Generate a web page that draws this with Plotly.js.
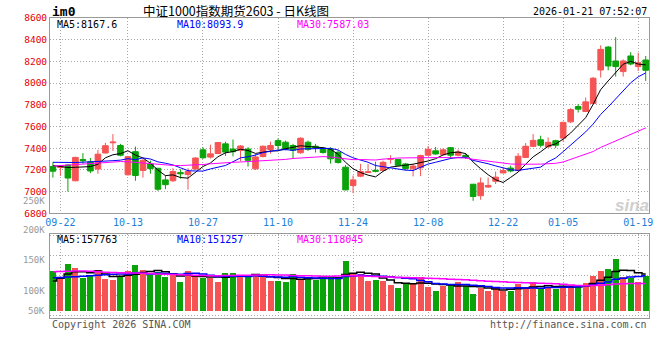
<!DOCTYPE html>
<html>
<head>
<meta charset="utf-8">
<script src="https://cdn.plot.ly/plotly-3.0.1.min.js"></script>
<style>
html,body{margin:0;padding:0;background:#fff;}
#chart{width:660px;height:360px;}
</style>
</head>
<body>
<div id="chart"></div>
<script>
// ---------- data ----------
const dates = ['09-19','09-22','09-23','09-24','09-25','09-26','09-29','09-30',
 '10-09','10-10','10-13','10-14','10-15','10-16','10-17','10-20','10-21','10-22','10-23','10-24','10-27','10-28','10-29','10-30','10-31',
 '11-03','11-04','11-05','11-06','11-07','11-10','11-11','11-12','11-13','11-14','11-17','11-18','11-19','11-20','11-21','11-24','11-25','11-26','11-27','11-28',
 '12-01','12-02','12-03','12-04','12-05','12-08','12-09','12-10','12-11','12-12','12-15','12-16','12-17','12-18','12-19','12-22','12-23','12-24','12-25','12-26','12-29','12-30','12-31',
 '01-05','01-06','01-07','01-08','01-09','01-12','01-13','01-14','01-15','01-16','01-19','01-20'];

const openPrices = [7231,7222,7245,7100,7296,7275,7208,7356,7450,7425,
 7155,7368,7195,7255,7215,7108,7100,7175,7157,7208,
 7385,7318,7351,7440,7392,7380,7392,7210,7323,7388,
 7470,7455,7425,7358,7455,7418,7400,7388,7362,7225,
 7056,7142,7175,7196,7195,7298,7296,7255,7210,7220,
 7335,7376,7340,7405,7335,7335,7068,6962,7042,7095,
 7172,7217,7193,7315,7417,7478,7413,7469,7493,7643,
 7784,7738,7812,8121,8332,8204,8106,8250,8152,8213];
const highPrices = [7271,7245,7250,7322,7355,7310,7385,7450,7530,7440,
 7330,7415,7300,7285,7218,7150,7215,7205,7215,7315,
 7408,7432,7455,7460,7480,7428,7410,7348,7425,7460,
 7490,7470,7440,7500,7470,7440,7410,7408,7378,7245,
 7148,7255,7255,7275,7285,7335,7300,7265,7255,7340,
 7420,7412,7398,7410,7388,7355,7070,7130,7130,7184,
 7222,7239,7355,7447,7530,7515,7499,7478,7645,7769,
 7806,7867,8057,8348,8342,8424,8219,8286,8280,8250];
const lowPrices = [7129,7145,7000,7095,7258,7170,7165,7350,7375,7325,
 7148,7100,7130,7165,7006,7022,7088,7120,7018,7200,
 7300,7305,7345,7330,7325,7280,7230,7200,7315,7350,
 7385,7380,7308,7350,7375,7360,7350,7258,7258,7012,
 6985,7133,7172,7178,7185,7258,7235,7195,7140,7142,
 7330,7340,7335,7300,7325,7300,6915,6925,7035,7070,
 7170,7178,7190,7309,7410,7407,7404,7401,7459,7631,
 7729,7735,7806,8051,8118,8060,8060,8164,8112,8020];
const closePrices = [7188,7238,7125,7315,7284,7190,7345,7423,7456,7335,
 7322,7148,7288,7212,7022,7064,7185,7165,7185,7310,
 7312,7348,7452,7364,7368,7420,7288,7320,7418,7425,
 7425,7390,7382,7492,7390,7402,7360,7302,7268,7016,
 7108,7185,7182,7188,7270,7304,7242,7212,7235,7332,
 7390,7347,7385,7335,7366,7320,6955,7080,7057,7133,
 7195,7190,7326,7418,7472,7427,7454,7427,7638,7756,
 7760,7827,8045,8311,8158,8152,8204,8176,8188,8118];
const volumes = [171200,139800,201000,185300,139900,154100,175400,136900,132600,146700,
 171100,196800,175300,154000,168200,146600,153900,125300,171000,149700,
 139800,142400,125400,163800,163900,146700,146800,158200,151000,129600,
 129700,125300,158100,136800,139900,132600,139800,151000,144100,215100,
 158300,158200,129700,132500,129600,111200,99700,121000,121100,146700,
 103240,86410,107350,111180,124760,107420,72890,100310,86550,102970,
 86720,86480,114150,100290,124830,100160,103090,95880,102940,111160,
 103500,120500,149000,171500,179255,224000,147000,142500,125500,149815];

// moving-average values before enough history is on screen
const priceMa5Head  = [7240,7232,7222,7224];
const priceMa10Head = [7270,7268,7266,7268,7271,7273,7276,7280,7285];
const priceMa30Head = [7235,7240,7245,7250,7255,7260,7265,7270,7275,7277,
 7275,7270,7263,7255,7248,7244,7241,7240,7242,7246,
 7250,7256,7262,7266,7270,7273,7276,7279,7282];
const volMa5Head  = [128000,140000,158000,168000];
const volMa10Head = [142000,143000,145000,147000,149000,151000,153000,155000,157000];
const volMa30Head = [168000,169000,170000,171000,171000,170000,168000,166000,165000,164000,
 163000,162000,161000,160000,158000,157000,156000,155000,154000,153000,
 152000,151000,151000,152000,152000,153000,153000,154000,154000];

const tickDates  = ['09-22','10-13','10-27','11-10','11-24','12-08','12-22','01-05','01-19'];
const priceTicks = [6800,7000,7200,7400,7600,7800,8000,8200,8400,8600];
const volLabels  = ['250K','200K','150K','100K','50K'];
const priceLegend = ['MA5:8167.6','MA10:8093.9','MA30:7587.03'];
const volLegend   = ['MA5:157763','MA10:151257','MA30:118045'];
const titleText = '中证1000指数期货2603 - 日K线图';
const symbolText = 'im0';
const timeText = '2026-01-21 07:52:07';

// ---------- helpers ----------
function movingAverage(values, n, head) {
  return values.map((v, i) => {
    if (i < n - 1) return head[i];
    let s = 0;
    for (let k = i - n + 1; k <= i; k++) s += values[k];
    return s / n;
  });
}

const RED = '#f65454', GREEN = '#0aa30a';
const MA_COLORS = ['#000000', '#0000ff', '#ff00ff'];
const GRID = '#a8a8a8', BORDER = '#9a9a9a';
const MONO = 'DejaVu Sans Mono, monospace';

const xi = dates.map((d, i) => i);
const up = closePrices.map((c, i) => c >= openPrices[i]);
const volColors = up.map(u => u ? RED : GREEN);
const tickIdx = tickDates.map(d => dates.indexOf(d));

const pMa = [movingAverage(closePrices, 5, priceMa5Head),
             movingAverage(closePrices, 10, priceMa10Head),
             movingAverage(closePrices, 30, priceMa30Head)];
const vMa = [movingAverage(volumes, 5, volMa5Head),
             movingAverage(volumes, 10, volMa10Head),
             movingAverage(volumes, 30, volMa30Head)];

const traces = [];
traces.push({
  type: 'candlestick', x: xi, open: openPrices, high: highPrices, low: lowPrices, close: closePrices,
  xaxis: 'x', yaxis: 'y', whiskerwidth: 0,
  increasing: {line: {color: RED, width: 1}, fillcolor: RED},
  decreasing: {line: {color: GREEN, width: 1}, fillcolor: GREEN},
  hoverinfo: 'skip'
});
pMa.forEach((ma, k) => traces.push({
  type: 'scatter', mode: 'lines', x: xi, y: ma, xaxis: 'x', yaxis: 'y',
  line: {color: MA_COLORS[k], width: 1}, hoverinfo: 'skip'
}));
traces.push({
  type: 'bar', x: xi, y: volumes, xaxis: 'x2', yaxis: 'y2', width: 0.8,
  marker: {color: volColors, line: {width: 0}}, hoverinfo: 'skip'
});
vMa.forEach((ma, k) => traces.push({
  type: 'scatter', mode: 'lines', x: xi, y: ma, xaxis: 'x2', yaxis: 'y2',
  line: {color: MA_COLORS[k], width: 1.5, shape: 'hvh'}, hoverinfo: 'skip'
}));

// pixel helpers for text placement (plot area: x 50..649, y 18..318)
const PX = px => (px - 50) / 599;
const PY = py => (318 - py) / 300;

const ann = [];
ann.push({text: '<b>' + symbolText + '</b>', x: PX(50), y: PY(11.5), xanchor: 'left', yanchor: 'middle',
  font: {family: MONO, size: 13, color: '#000'}});
ann.push({text: titleText, x: PX(236), y: PY(11), xanchor: 'center', yanchor: 'middle',
  font: {family: 'Noto Sans CJK SC', size: 12.5, color: '#000'}});
ann.push({text: timeText, x: PX(649), y: PY(12), xanchor: 'right', yanchor: 'middle',
  font: {family: MONO, size: 10, color: '#000'}});
const legX = [55, 175, 295];
priceLegend.forEach((t, k) => ann.push({text: t, x: PX(legX[k]), y: PY(24), xanchor: 'left', yanchor: 'middle',
  font: {family: MONO, size: 10, color: MA_COLORS[k]}}));
volLegend.forEach((t, k) => ann.push({text: t, x: PX(legX[k]), y: PY(239), xanchor: 'left', yanchor: 'middle',
  font: {family: MONO, size: 10, color: MA_COLORS[k]}}));
const volLabelY = [200.5, 230, 260, 291, 311];
volLabels.forEach((t, k) => ann.push({text: t, x: PX(47), y: PY(volLabelY[k]), xanchor: 'right', yanchor: 'middle',
  font: {family: MONO, size: 9, color: '#999'}}));
ann.push({text: 'Copyright 2026 SINA.COM', x: PX(50), y: PY(324), xanchor: 'left', yanchor: 'middle',
  font: {family: MONO, size: 10, color: '#555'}});
ann.push({text: 'http://finance.sina.com.cn', x: PX(649), y: PY(324), xanchor: 'right', yanchor: 'middle',
  font: {family: MONO, size: 10, color: '#555'}});
ann.push({text: '<b><i>sina</i></b>', x: PX(651), y: PY(205), xanchor: 'right', yanchor: 'middle',
  font: {family: 'Liberation Sans', size: 17, color: '#cfcfcf'}});
ann.forEach(a => { a.xref = 'paper'; a.yref = 'paper'; a.showarrow = false; });

const gridAxis = {
  showgrid: true, gridcolor: GRID, gridwidth: 1, griddash: '1px,2px',
  showline: true, mirror: true, linecolor: BORDER, linewidth: 1, zeroline: false,
  ticks: '', fixedrange: true
};

const layout = {
  width: 660, height: 360,
  margin: {l: 50, r: 11, t: 18, b: 42},
  paper_bgcolor: '#fff', plot_bgcolor: '#fff',
  showlegend: false, hovermode: false,
  boxgap: 0.25, boxgroupgap: 0, bargap: 0,
  xaxis: Object.assign({}, gridAxis, {
    domain: [0, 1], anchor: 'y', range: [-0.386, 79.44], rangeslider: {visible: false},
    tickmode: 'array', tickvals: tickIdx, ticktext: tickDates,
    tickfont: {family: MONO, size: 10, color: '#1e7fd8'}
  }),
  yaxis: Object.assign({}, gridAxis, {
    domain: [0.349, 1], anchor: 'x', range: [6800, 8600],
    tickmode: 'array', tickvals: priceTicks, ticktext: priceTicks.map(String),
    tickfont: {family: MONO, size: 9.5, color: '#e60000'}, ticklabelshift: 2.5
  }),
  xaxis2: Object.assign({}, gridAxis, {
    domain: [0, 1], anchor: 'y2', matches: 'x', range: [-0.386, 79.44],
    tickmode: 'array', tickvals: tickIdx, showticklabels: false
  }),
  yaxis2: Object.assign({}, gridAxis, {
    domain: [0, 0.28], anchor: 'x2', range: [-29940, 329340],
    tick0: 65400, dtick: 85550, showticklabels: false
  }),
  annotations: ann
};

Plotly.newPlot('chart', traces, layout, {staticPlot: true, displayModeBar: false});
</script>
</body>
</html>
